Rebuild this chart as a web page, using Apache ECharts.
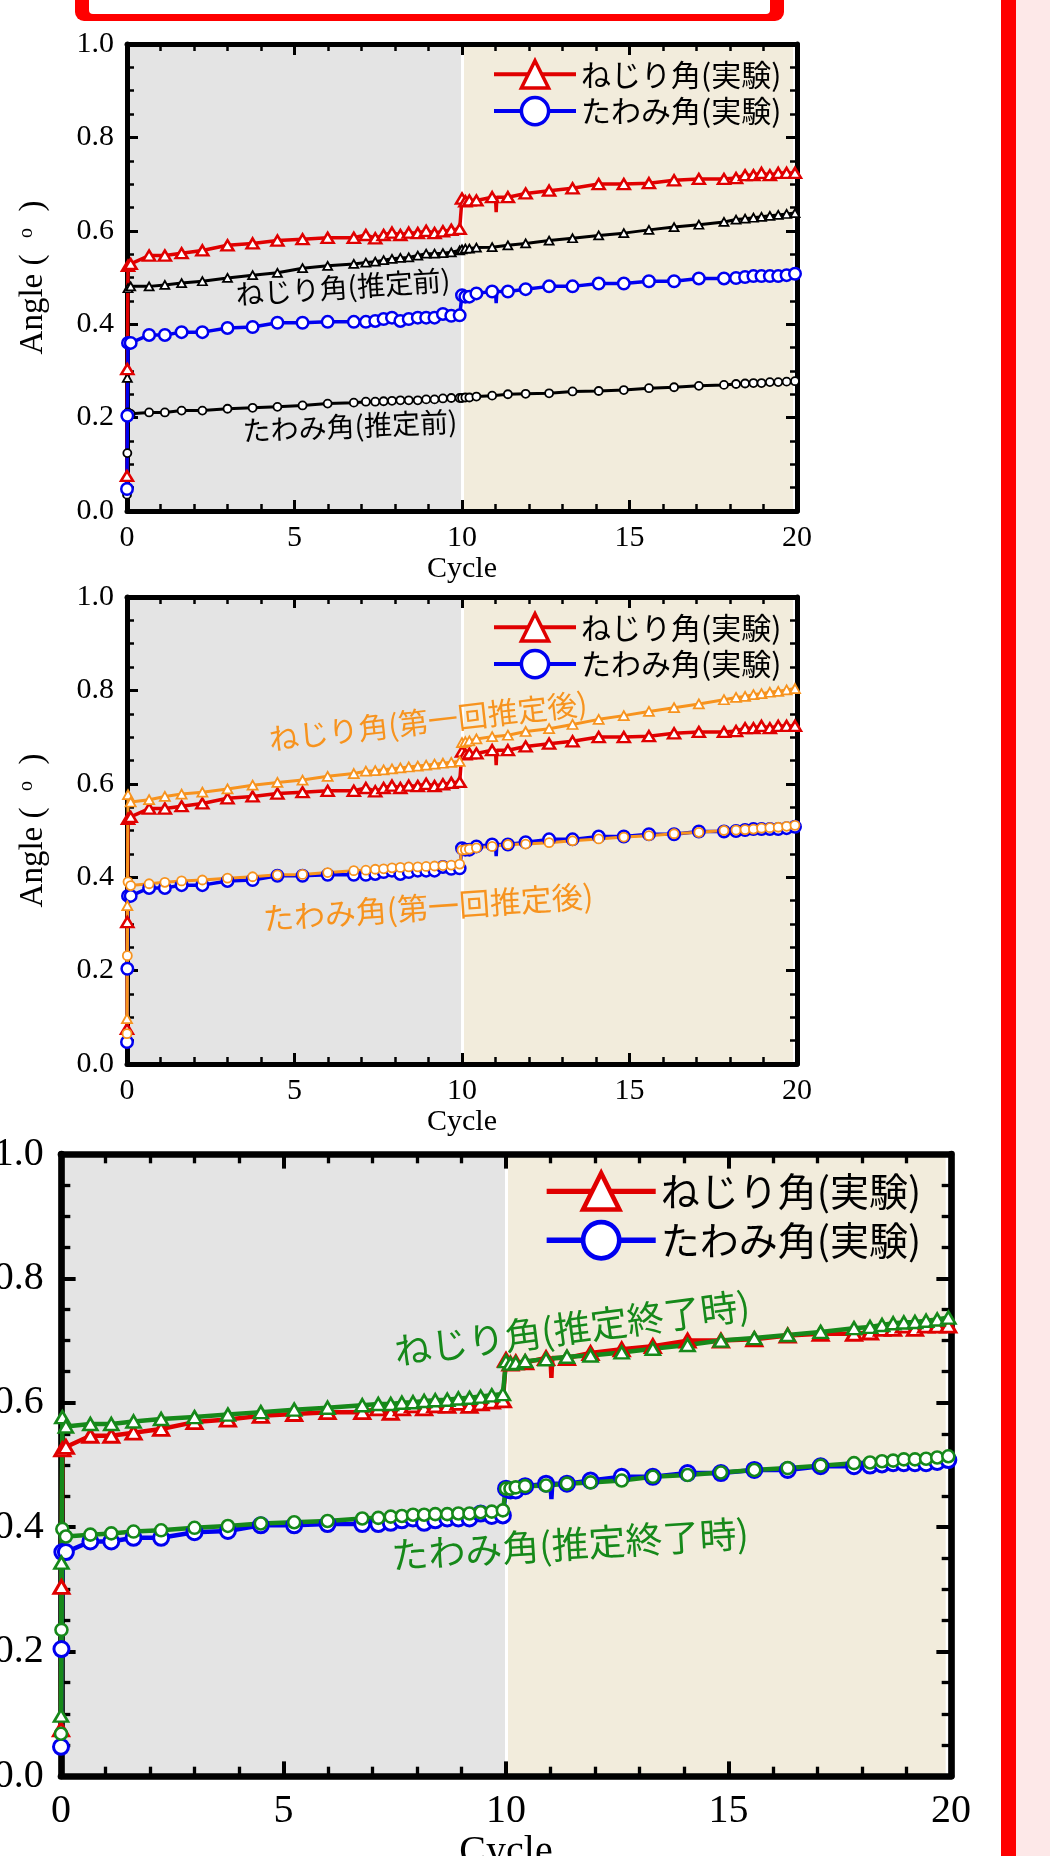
<!DOCTYPE html>
<html>
<head>
<meta charset="utf-8">
<script src="https://cdn.jsdelivr.net/npm/echarts@6.0.0/dist/echarts.min.js"></script>
<style>
html, body { margin: 0; padding: 0; background: #fff; }
#wrap { position: relative; width: 1050px; height: 1856px; overflow: hidden; }
.layer { position: absolute; left: 0; top: 0; width: 1050px; height: 1856px; }
</style>
</head>
<body>
<div id="wrap">
    <div id="chart1" class="layer"></div>
    <div id="chart2" class="layer"></div>
    <div id="chart3" class="layer"></div>
</div>
<script>
// common cycle positions of the sampled points (all series)
var cycles = [0, 0.01, 0.03, 0.11, 0.66, 1.13, 1.63, 2.25, 3.0, 3.75, 4.49, 5.24, 5.99, 6.77,
    7.13, 7.41, 7.66, 7.91, 8.16, 8.41, 8.68, 8.93, 9.18, 9.43, 9.68, 9.93,
    10.0, 10.1, 10.22, 10.43, 10.9, 11.37, 11.9, 12.6, 13.3, 14.08, 14.83, 15.58, 16.33, 17.07, 17.82,
    18.18, 18.45, 18.7, 18.94, 19.19, 19.44, 19.69, 19.94];

// experiment
var torsionExp = [0.075, 0.304, 0.525, 0.529, 0.547, 0.547, 0.552, 0.558, 0.569, 0.573, 0.579, 0.582, 0.585, 0.585,
    0.591, 0.584, 0.591, 0.596, 0.591, 0.596, 0.595, 0.600, 0.595, 0.599, 0.602, 0.604,
    0.669, 0.663, 0.665, 0.665, 0.672, 0.672, 0.680, 0.686, 0.691, 0.700, 0.700, 0.702, 0.708, 0.711, 0.711,
    0.713, 0.719, 0.719, 0.724, 0.719, 0.724, 0.724, 0.724];
var deflectExp = [0.047, 0.204, 0.360, 0.360, 0.377, 0.377, 0.383, 0.383, 0.392, 0.394, 0.403, 0.403, 0.405, 0.405,
    0.405, 0.407, 0.411, 0.414, 0.407, 0.411, 0.414, 0.414, 0.414, 0.422, 0.418, 0.419,
    0.462, 0.459, 0.459, 0.466, 0.470, 0.470, 0.475, 0.481, 0.481, 0.487, 0.487, 0.492, 0.492, 0.498, 0.498,
    0.499, 0.501, 0.503, 0.503, 0.503, 0.503, 0.505, 0.508];
// short downward glitch in the measured lines near cycle 11
var dipCycles = [11.0, 11.02, 11.04];
var torsionDip = [0.672, 0.640, 0.672];
var deflectDip = [0.470, 0.445, 0.470];

// before estimation
var torsionPre = [0.075, 0.285, 0.477, 0.481, 0.481, 0.484, 0.488, 0.492, 0.499, 0.505, 0.510, 0.520, 0.525, 0.529,
    0.532, 0.534, 0.537, 0.540, 0.542, 0.543, 0.547, 0.551, 0.551, 0.552, 0.554, 0.558,
    0.560, 0.562, 0.562, 0.564, 0.565, 0.569, 0.573, 0.579, 0.584, 0.590, 0.595, 0.602, 0.608, 0.613, 0.619,
    0.624, 0.626, 0.628, 0.630, 0.632, 0.634, 0.636, 0.638];
var deflectPre = [0.035, 0.124, 0.211, 0.208, 0.211, 0.211, 0.215, 0.215, 0.219, 0.221, 0.223, 0.226, 0.230, 0.232,
    0.234, 0.234, 0.235, 0.236, 0.237, 0.237, 0.237, 0.239, 0.239, 0.241, 0.242, 0.242,
    0.242, 0.243, 0.243, 0.245, 0.247, 0.250, 0.251, 0.252, 0.256, 0.257, 0.259, 0.263, 0.265, 0.268, 0.270,
    0.272, 0.273, 0.274, 0.274, 0.276, 0.276, 0.277, 0.278];

// after first estimation
var torsionFirst = [0.097, 0.339, 0.577, 0.561, 0.566, 0.573, 0.578, 0.582, 0.589, 0.597, 0.603, 0.608, 0.616, 0.622,
    0.627, 0.628, 0.630, 0.632, 0.634, 0.636, 0.638, 0.640, 0.642, 0.644, 0.646, 0.648,
    0.688, 0.690, 0.692, 0.696, 0.701, 0.704, 0.712, 0.718, 0.727, 0.738, 0.746, 0.755, 0.763, 0.771, 0.780,
    0.785, 0.787, 0.791, 0.793, 0.796, 0.798, 0.801, 0.804];
var deflectFirst = [0.065, 0.232, 0.390, 0.382, 0.386, 0.389, 0.392, 0.394, 0.398, 0.401, 0.405, 0.406, 0.410, 0.414,
    0.415, 0.417, 0.418, 0.420, 0.421, 0.422, 0.422, 0.423, 0.424, 0.425, 0.426, 0.428,
    0.458, 0.459, 0.460, 0.463, 0.466, 0.470, 0.471, 0.474, 0.478, 0.482, 0.486, 0.489, 0.493, 0.496, 0.500,
    0.501, 0.502, 0.503, 0.505, 0.506, 0.507, 0.509, 0.511];

// end of estimation
var torsionFinal = [0.097, 0.343, 0.577, 0.562, 0.566, 0.566, 0.570, 0.574, 0.577, 0.581, 0.585, 0.589, 0.592, 0.596,
    0.598, 0.598, 0.600, 0.601, 0.603, 0.604, 0.605, 0.607, 0.608, 0.610, 0.612, 0.614,
    0.667, 0.663, 0.664, 0.667, 0.670, 0.674, 0.676, 0.681, 0.687, 0.693, 0.700, 0.704, 0.709, 0.714, 0.720,
    0.722, 0.725, 0.728, 0.729, 0.730, 0.732, 0.734, 0.737];
var deflectFinal = [0.068, 0.235, 0.397, 0.385, 0.388, 0.390, 0.393, 0.395, 0.399, 0.402, 0.406, 0.408, 0.410, 0.414,
    0.415, 0.417, 0.418, 0.420, 0.420, 0.421, 0.421, 0.422, 0.422, 0.424, 0.425, 0.427,
    0.462, 0.462, 0.464, 0.466, 0.467, 0.470, 0.472, 0.475, 0.481, 0.484, 0.488, 0.492, 0.495, 0.499, 0.503,
    0.504, 0.506, 0.507, 0.509, 0.509, 0.510, 0.512, 0.514];

var legendNames = ['ねじり角(実験)', 'たわみ角(実験)'];

var RED = '#e00000', BLUE = '#0000f0', ORANGE = '#f7931e', GREEN = '#16891a';
var JP = '"Noto Sans CJK JP"';

function pts(ys) {
    return cycles.map(function (x, i) { return [x, ys[i]]; });
}

function expPts(ys, dipYs) {
    var d = pts(ys);
    dipCycles.forEach(function (x, i) {
        d.push({ value: [x, dipYs[i]], symbol: 'none' });
    });
    d.sort(function (a, b) { return (a.value || a)[0] - (b.value || b)[0]; });
    return d;
}

function line(name, data, color, symbol, size, lw, bw) {
    return {
        name: name, type: 'line', data: data, z: 3,
        xAxisIndex: 0, yAxisIndex: 0,
        symbol: symbol, symbolSize: size, showAllSymbol: true,
        lineStyle: { color: color, width: lw },
        itemStyle: { color: '#fff', borderColor: color, borderWidth: bw },
        emphasis: { disabled: true }
    };
}

// grey (0-10) and beige (10-20) bands behind the data
function bands() {
    return {
        type: 'line', data: [], xAxisIndex: 0, yAxisIndex: 0, silent: true,
        markArea: {
            silent: true, z: 1,
            itemStyle: { color: '#e4e4e4' },
            data: [
                [{ xAxis: 0, yAxis: 0 }, { xAxis: 10, yAxis: 1 }],
                [{ xAxis: 10, yAxis: 0, itemStyle: { color: '#f2ecdc' } }, { xAxis: 19.88, yAxis: 1 }]
            ]
        },
        markLine: {
            silent: true, z: 1, symbol: 'none', label: { show: false },
            lineStyle: { color: '#fff', width: 3, type: 'solid' },
            data: [{ xAxis: 10 }]
        }
    };
}

function frame(k) {
    var font = { fontFamily: 'Liberation Serif', fontSize: Math.round(30 * k), color: '#000' };
    function axis(extra) {
        return Object.assign({
            type: 'value', gridIndex: 0, z: 2,
            axisLine: { show: true, onZero: false, lineStyle: { color: '#000', width: 5 * k } },
            axisTick: { show: true, inside: true, length: 11 * k, lineStyle: { color: '#000', width: 3 * k } },
            splitLine: { show: false }
        }, extra);
    }
    var xm = { show: true, splitNumber: 5, length: 7 * k, lineStyle: { color: '#000', width: 2.5 * k } };
    var ym = { show: true, splitNumber: 4, length: 7 * k, lineStyle: { color: '#000', width: 2.5 * k } };
    return {
        xAxis: [
            axis({
                position: 'bottom', min: 0, max: 20, interval: 5, minorTick: xm,
                axisLabel: Object.assign({ margin: 12 * k }, font),
                name: 'Cycle', nameLocation: 'middle', nameGap: 38 * k, nameTextStyle: font
            }),
            axis({ position: 'top', min: 0, max: 20, interval: 5, minorTick: xm, axisLabel: { show: false } })
        ],
        yAxis: [
            axis({
                position: 'left', min: 0, max: 1, interval: 0.2, minorTick: ym,
                axisLabel: Object.assign({ margin: 13 * k, formatter: function (v) { return v.toFixed(1); } }, font),
                name: 'Angle (  {s|o}  )', nameLocation: 'middle', nameRotate: 90, nameGap: 77 * k,
                nameTextStyle: Object.assign({}, font, {
                    fontSize: Math.round(33 * k),
                    rich: { s: { fontFamily: 'Liberation Serif', fontSize: Math.round(20 * k), verticalAlign: 'top', color: '#000' } }
                })
            }),
            axis({ position: 'right', min: 0, max: 1, interval: 0.2, minorTick: ym, axisLabel: { show: false } })
        ]
    };
}

function legend(left, top, k) {
    return {
        data: legendNames, orient: 'vertical', left: left, top: top, padding: 0,
        itemWidth: 82 * k, itemHeight: 34 * k, itemGap: 6 * k, selectedMode: false,
        lineStyle: { width: 4 * k }, itemStyle: { borderWidth: 3.5 * k },
        textStyle: { fontFamily: JP, fontSize: Math.round(29.5 * k), color: '#000' }
    };
}

function note(text, x, y, deg, color, size) {
    return {
        type: 'text', x: x, y: y, rotation: deg * Math.PI / 180, z: 10, silent: true,
        style: { text: text, fill: color, font: size + 'px ' + JP, align: 'center', verticalAlign: 'middle' }
    };
}

function build(id, grid, k, leg, series, graphic) {
    var chart = echarts.init(document.getElementById(id));
    var f = frame(k);
    chart.setOption({
        animation: false,
        grid: Object.assign({ containLabel: false, outerBoundsMode: 'none' }, grid),
        xAxis: f.xAxis,
        yAxis: f.yAxis,
        legend: leg,
        series: [bands()].concat(series),
        graphic: graphic
    });
    return chart;
}

// chart 1: experiment vs. before estimation
build('chart1', { left: 127, top: 44, width: 670, height: 467 }, 1, legend(492, 59, 1), [
    line('ねじり角(推定前)', pts(torsionPre), '#000', 'triangle', [9, 8], 3, 1.8),
    line('たわみ角(推定前)', pts(deflectPre), '#000', 'circle', 8, 3, 1.8),
    line(legendNames[0], expPts(torsionExp, torsionDip), RED, 'triangle', [12, 10], 3.5, 2.5),
    line(legendNames[1], expPts(deflectExp, deflectDip), BLUE, 'circle', 11.5, 3.5, 2.5)
], [
    { type: 'rect', silent: true, shape: { x: 75, y: -40, width: 709, height: 61, r: 9 }, style: { fill: '#ff0000' } },
    { type: 'rect', silent: true, shape: { x: 89, y: -40, width: 681, height: 54, r: 4 }, style: { fill: '#fff' } },
    { type: 'rect', silent: true, shape: { x: 1001, y: 0, width: 15, height: 1856 }, style: { fill: '#ff0000' } },
    { type: 'rect', silent: true, shape: { x: 1016, y: 0, width: 34, height: 1856 }, style: { fill: '#fde8e8' } },
    note('ねじり角(推定前)', 343, 287, 4, '#000', 28),
    note('たわみ角(推定前)', 350, 426, 2.5, '#000', 28)
]);

// chart 2: experiment vs. after first estimation
build('chart2', { left: 127, top: 597, width: 670, height: 467 }, 1, legend(492, 612, 1), [
    line(legendNames[0], expPts(torsionExp, torsionDip), RED, 'triangle', [12, 10], 3.5, 2.5),
    line(legendNames[1], expPts(deflectExp, deflectDip), BLUE, 'circle', 11.5, 3.5, 2.5),
    line('ねじり角(第一回推定後)', pts(torsionFirst), ORANGE, 'triangle', [10, 9], 3, 1.8),
    line('たわみ角(第一回推定後)', pts(deflectFirst), ORANGE, 'circle', 9, 3, 1.8)
], [
    note('ねじり角(第一回推定後)', 428, 721, 6.5, ORANGE, 30),
    note('たわみ角(第一回推定後)', 428, 907, 4, ORANGE, 31)
]);

// chart 3: experiment vs. end of estimation
var K3 = 1.33;
build('chart3', { left: 61, top: 1154, width: 890, height: 622 }, K3, legend(544, 1171, K3), [
    line(legendNames[0], expPts(torsionExp, torsionDip), RED, 'triangle', [15, 13], 4.5, 3),
    line(legendNames[1], expPts(deflectExp, deflectDip), BLUE, 'circle', 15, 4.5, 3),
    line('ねじり角(推定終了時)', pts(torsionFinal), GREEN, 'triangle', [14, 12], 4.5, 2.6),
    line('たわみ角(推定終了時)', pts(deflectFinal), GREEN, 'circle', 12, 4.5, 2.6)
], [
    note('ねじり角(推定終了時)', 572, 1328, 7.5, GREEN, 37),
    note('たわみ角(推定終了時)', 570, 1544, 3.6, GREEN, 37)
]);
</script>
</body>
</html>
